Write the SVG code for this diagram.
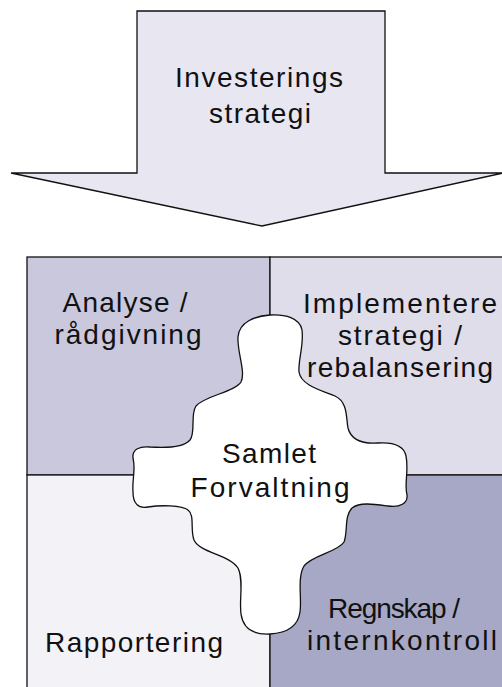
<svg xmlns="http://www.w3.org/2000/svg" width="502" height="687" viewBox="0 0 502 687">
<style>
.lbl{font-family:"Liberation Sans",Arial,sans-serif;font-size:28px;fill:#111;text-anchor:middle}
.edge{stroke:#111;stroke-width:1.3;stroke-linejoin:miter}
</style>
<rect x="0" y="0" width="502" height="687" fill="#ffffff"/>
<g id="arrow-investeringsstrategi">
<polygon class="edge" points="137,11 385,11 385,173 503,173 262,226 11,173 137,173" fill="#e8e7f1"/>
<text class="lbl" x="259" y="87" textLength="168" lengthAdjust="spacing">Investerings</text>
<text class="lbl" x="260" y="123" textLength="102" lengthAdjust="spacing">strategi</text>
</g>
<g id="quadrant-analyse">
<rect class="edge" x="27" y="257" width="243" height="218" fill="#c9c8dd"/>
<text class="lbl" x="125" y="312" textLength="125" lengthAdjust="spacing">Analyse /</text>
<text class="lbl" x="128" y="344" textLength="147" lengthAdjust="spacing">rådgivning</text>
</g>
<g id="quadrant-implementere">
<rect class="edge" x="270" y="257" width="240" height="218" fill="#dedde9"/>
<text class="lbl" x="400" y="313" textLength="194" lengthAdjust="spacing">Implementere</text>
<text class="lbl" x="400" y="345" textLength="124" lengthAdjust="spacing">strategi /</text>
<text class="lbl" x="400" y="377" textLength="186" lengthAdjust="spacing">rebalansering</text>
</g>
<g id="quadrant-rapportering">
<rect class="edge" x="27" y="475" width="243" height="220" fill="#f2f2f7"/>
<text class="lbl" x="134" y="652" textLength="178" lengthAdjust="spacing">Rapportering</text>
</g>
<g id="quadrant-regnskap">
<rect class="edge" x="270" y="475" width="240" height="220" fill="#a7a7c6"/>
<text class="lbl" x="394" y="618" textLength="132" lengthAdjust="spacing">Regnskap /</text>
<text class="lbl" x="402" y="650" textLength="190" lengthAdjust="spacing">internkontroll</text>
</g>
<g id="samlet-forvaltning">
<path class="edge" fill="#ffffff" d="M270,315 C285,314 300,318 302,330 C304,345 298,360 299,372 C301,385 320,390 335,396 C348,402 346,418 348,428 C351,440 362,444 378,443 C395,442 404,446 406,456 C409,470 404,485 407,495 C408,503 400,508 388,506 C373,504 360,502 352,508 C344,516 348,532 344,542 C338,552 312,555 304,566 C297,578 302,598 300,612 C298,626 288,633 270,634 C252,635 243,628 241,614 C239,600 244,580 238,568 C230,555 200,553 194,540 C190,530 195,515 188,510 C182,505 160,505 148,507 C138,509 133,503 133,492 C132,478 136,470 133,458 C132,449 140,446 150,447 C165,448 183,448 190,440 C196,432 190,415 196,406 C204,396 235,392 241,382 C246,372 237,352 238,337 C239,322 255,316 270,315 Z"/>
<text class="lbl" x="269" y="463" textLength="94" lengthAdjust="spacing">Samlet</text>
<text class="lbl" x="270" y="497" textLength="159" lengthAdjust="spacing">Forvaltning</text>
</g>
</svg>
